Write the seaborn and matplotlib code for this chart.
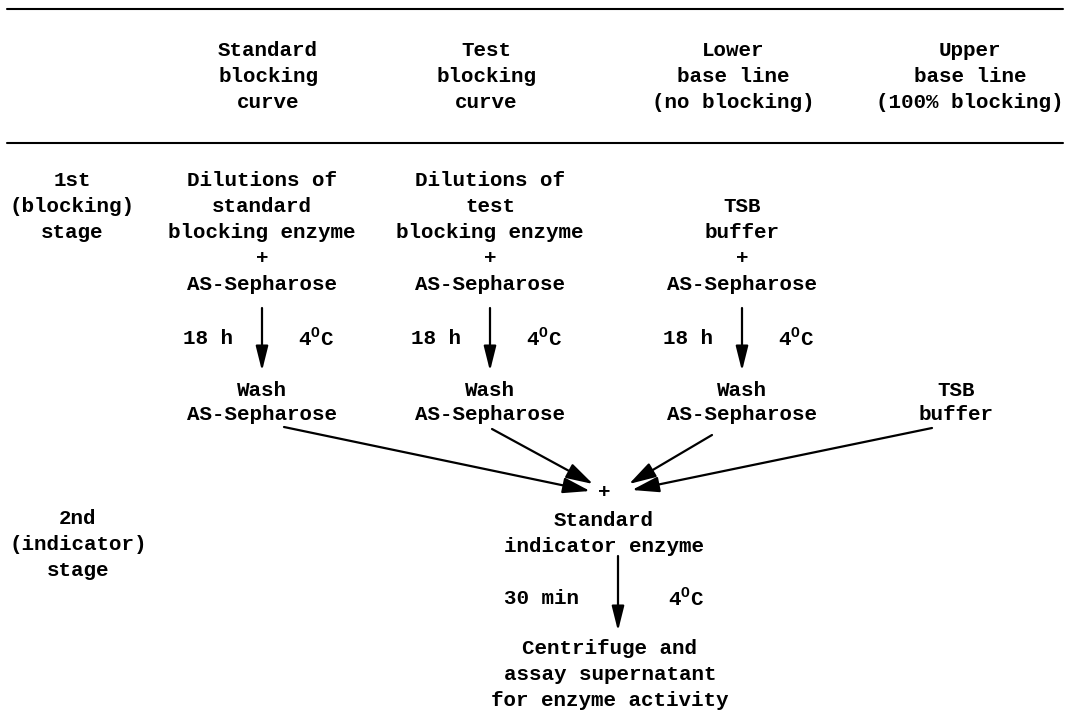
import matplotlib.pyplot as plt
import seaborn as sns

# Texte des Schemas (Spalten = Versuchsansaetze)
header_labels = [
    ["Standard", "blocking", "curve"],
    ["Test", "blocking", "curve"],
    ["Lower", "base line", "(no blocking)"],
    ["Upper", "base line", "(100% blocking)"],
]
stage_labels = [
    ["1st", "(blocking)", "stage"],
    ["2nd", "(indicator)", "stage"],
]
blocking_mix = [
    ["Dilutions of", "standard", "blocking enzyme", "+", "AS-Sepharose"],
    ["Dilutions of", "test", "blocking enzyme", "+", "AS-Sepharose"],
    ["", "TSB", "buffer", "+", "AS-Sepharose"],
]
washed = [
    ["Wash", "AS-Sepharose"],
    ["Wash", "AS-Sepharose"],
    ["Wash", "AS-Sepharose"],
    ["TSB", "buffer"],
]
incubation_1 = ["18 h", r"4$^{\mathrm{O}}$C"]
indicator_mix = ["+", "Standard", "indicator enzyme"]
incubation_2 = ["30 min", r"4$^{\mathrm{O}}$C"]
final_step = ["Centrifuge and", "assay supernatant", "for enzyme activity"]

# Layout (Pixelkoordinaten, y nach unten)
W, H = 1074, 710
header_x = [268, 486, 733, 970]
header_y = [51, 77, 103]
rule_y = [9, 143]
stage_x = [72, 78]
stage_y = [[181, 207, 233], [518, 545, 571]]
col_x = [262, 490, 742, 956]
mix_y = [181, 207, 233, 259, 285]
wash_y = [390, 415]
incub_y = 338
incub_dx = [-54, 54]
arrow_1 = (308, 371)
join_starts = [(284, 427), (492, 429), (712, 435), (932, 428)]
join_tips = [(590, 491), (593, 484), (629, 484), (632, 490)]
center_x = 604
ind_y = [492, 520, 546]
arrow_2_x = 618
arrow_2 = (556, 631)
incub2_x = [541, 686]
incub2_y = 598
final_y = [649, 675, 700]


def put_block(ax, x, ys, lines):
    for y, txt in zip(ys, lines):
        if txt:
            ax.text(x, y, txt, ha='center', va='center')


def down_arrow(ax, x, y0, y1):
    ax.annotate('', xy=(x, y1), xytext=(x, y0),
                arrowprops=dict(arrowstyle='-|>,head_length=1.0,head_width=0.25',
                                mutation_scale=15, lw=1.6, color='black',
                                shrinkA=0, shrinkB=0))


def main():
    sns.set_theme(style='white')
    plt.rcParams['font.family'] = ['Liberation Mono', 'DejaVu Sans Mono']
    plt.rcParams['font.size'] = 15
    plt.rcParams['font.weight'] = 'bold'
    plt.rcParams['text.color'] = 'black'
    plt.rcParams['mathtext.fontset'] = 'custom'
    plt.rcParams['mathtext.rm'] = 'Liberation Mono:bold'

    fig = plt.figure(figsize=(W / 100, H / 100), dpi=100)
    ax = fig.add_axes([0, 0, 1, 1])
    ax.set_xlim(0, W)
    ax.set_ylim(H, 0)
    ax.axis('off')

    # Tabellenkopf
    for y in rule_y:
        ax.plot([7, 1063], [y, y], color='black', lw=1.5)
    for x, lines in zip(header_x, header_labels):
        put_block(ax, x, header_y, lines)

    # Stufen-Beschriftung links
    for x, ys, lines in zip(stage_x, stage_y, stage_labels):
        put_block(ax, x, ys, lines)

    # 1. Stufe (Blockierung)
    for i, lines in enumerate(blocking_mix):
        x = col_x[i]
        put_block(ax, x, mix_y, lines)
        down_arrow(ax, x, *arrow_1)
        ax.text(x + incub_dx[0], incub_y, incubation_1[0], ha='center', va='center')
        ax.text(x + incub_dx[1], incub_y, incubation_1[1], ha='center', va='center')
    for x, lines in zip(col_x, washed):
        put_block(ax, x, wash_y, lines)

    # Zusammenfuehrung der vier Ansaetze
    for (x0, y0), (x1, y1) in zip(join_starts, join_tips):
        ax.annotate('', xy=(x1, y1), xytext=(x0, y0),
                    arrowprops=dict(arrowstyle='-|>,head_length=1.1,head_width=0.32',
                                    mutation_scale=15, lw=1.6, color='black',
                                    shrinkA=0, shrinkB=0))

    # 2. Stufe (Indikator)
    put_block(ax, center_x, ind_y, indicator_mix)
    down_arrow(ax, arrow_2_x, *arrow_2)
    ax.text(incub2_x[0], incub2_y, incubation_2[0], ha='center', va='center')
    ax.text(incub2_x[1], incub2_y, incubation_2[1], ha='center', va='center')
    put_block(ax, 610, final_y, final_step)

    fig.savefig('out.png', dpi=100, facecolor='white')


if __name__ == '__main__':
    main()
